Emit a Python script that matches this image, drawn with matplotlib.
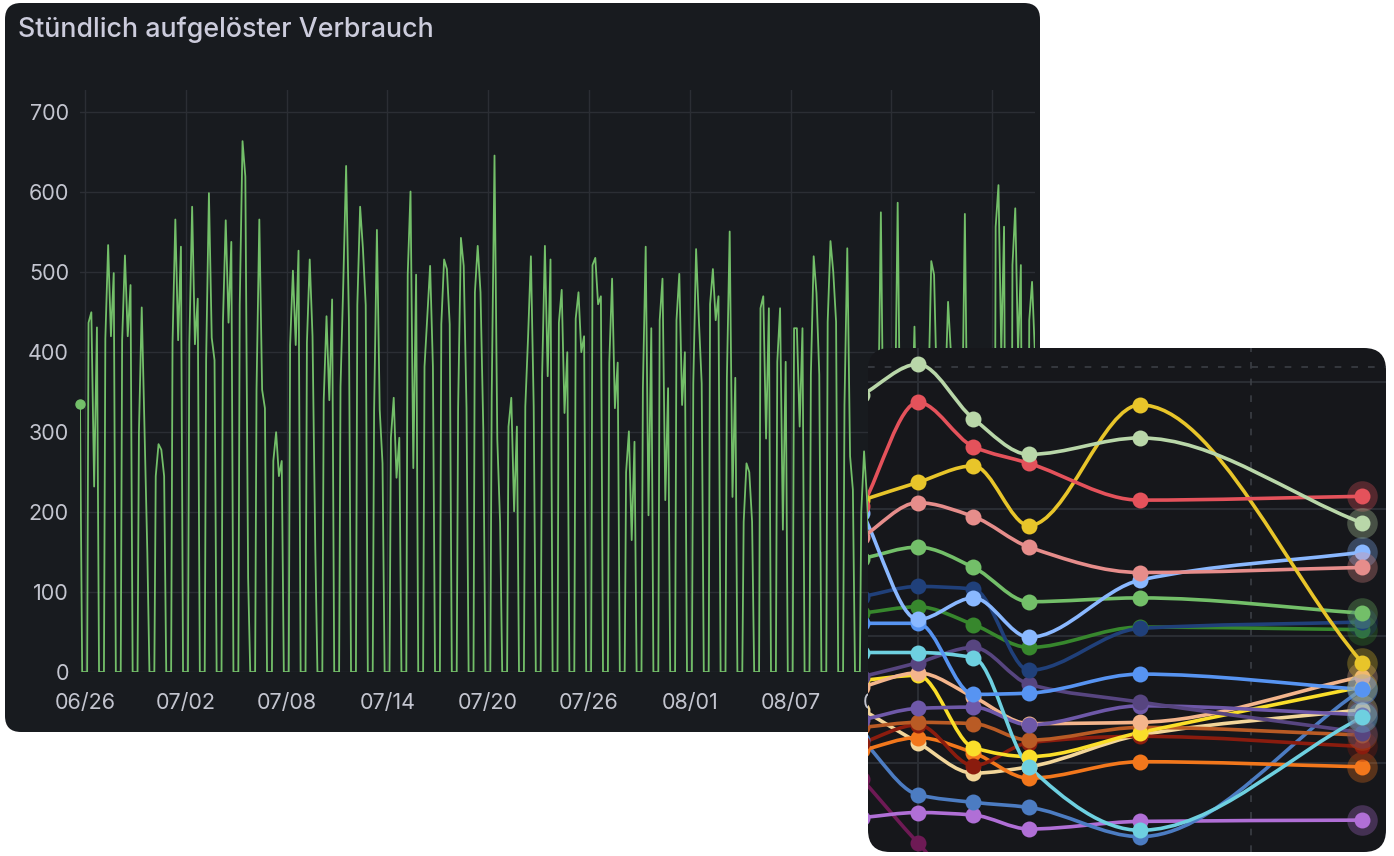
import numpy as np
import matplotlib
matplotlib.use("Agg")
import matplotlib.pyplot as plt
from matplotlib.patches import FancyBboxPatch, PathPatch
from matplotlib.path import Path

plt.rcParams['font.family'] = ['Inter', 'DejaVu Sans']

# ---- panel 1: hourly consumption, one bump per day ----
day_ticks = [0, 6, 12, 18, 24, 30, 36, 42, 48, 54]
day_labels = ["06/26", "07/02", "07/08", "07/14", "07/20",
              "07/26", "08/01", "08/07", "08/13", "08/19"]
hours = [3, 5, 9, 13, 17, 20]
cons_morning = [437, 417, 415, 300, 245, 412, 410, 390, 437, 459, 353, 264, 409, 412, 340,
                357, 459, 328, 293, 497, 382, 435, 330, 475, 345, 307, 332, 370, 437, 442,
                509, 387, 250, 355, 440, 440, 361, 460, 368, 188, 455, 388, 430, 372, 438,
                334, 200, 300, 300, 300, 350, 350, 300, 300, 557, 509, 440]
cons_peak = [450, 534, 521, 456, 285, 566, 582, 599, 565, 664, 566, 300, 502, 516, 445,
             488, 582, 553, 343, 601, 445, 516, 543, 533, 646, 343, 420, 533, 478, 475,
             518, 492, 301, 532, 492, 498, 529, 504, 551, 261, 470, 455, 430, 520, 539,
             530, 276, 575, 587, 432, 514, 463, 573, 400, 609, 580, 488]
cons_afternoon = [232, 420, 420, 300, 278, 415, 410, 418, 437, 620, 353, 245, 409, 420, 340,
                  633, 530, 328, 243, 255, 508, 504, 508, 475, 291, 201, 520, 370, 324, 400,
                  460, 330, 165, 196, 215, 334, 440, 440, 219, 250, 292, 178, 307, 474, 500,
                  270, 220, 250, 250, 250, 497, 400, 250, 250, 400, 400, 400]
cons_evening = [431, 499, 484, 149, 245, 532, 467, 390, 538, 118, 330, 264, 527, 152, 466,
                440, 459, 261, 293, 497, 382, 435, 330, 303, 186, 307, 332, 516, 400, 420,
                470, 387, 288, 430, 355, 400, 361, 470, 368, 188, 455, 388, 430, 372, 438,
                228, 150, 300, 300, 300, 350, 350, 300, 300, 557, 509, 440]
lead_time = [-0.30, -0.17]
lead_value = [335, 0]

# ---- panel 2: overlaid smooth series ----
step_x = [-1, 0, 1, 2, 4, 8]
sage = [390, 414, 371, 343, 356, 289]
red = [302, 384, 349, 336, 307, 310]
gold = [307, 321, 334, 287, 382, 179]
salmon = [278, 305, 294, 270, 250, 254]
light_blue = [297, 213, 230, 199, 244, 266]
mid_blue = [210, 210, 154, 155, 170, 158]
green = [261, 270, 254, 227, 230, 218]
navy = [231, 239, 237, 173, 206, 211]
dark_green = [218, 223, 209, 191, 207, 205]
cyan = [187, 187, 183, 97, 47, 136]
dark_purple = [168, 179, 191, 162, 148, 124]
violet = [134, 143, 144, 130, 145, 138]
peach = [160, 171, 152, 131, 132, 168]
yellow = [165, 169, 112, 105, 124, 160]
brown = [128, 132, 131, 118, 128, 122]
dark_red = [116, 130, 98, 116, 121, 113]
orange = [110, 120, 108, 88, 101, 97]
wheat = [142, 116, 92, 97, 122, 142]
steel = [118, 75, 69, 65, 42, 158]
orchid = [57, 61, 59, 48, 54, 55]
magenta = [87, 37, -8, -24, -32, -32]

series = [
    (magenta, "#6e1a55"), (orchid, "#b06fd6"), (steel, "#4c7cc2"),
    (wheat, "#f2d69a"), (orange, "#f2771c"), (dark_red, "#8a1c0e"),
    (brown, "#b95b25"), (yellow, "#fade2a"), (peach, "#f4b58c"),
    (violet, "#6e58a8"), (dark_purple, "#574580"), (cyan, "#6ed0e0"),
    (dark_green, "#37872d"), (navy, "#20407a"), (green, "#73bf69"),
    (mid_blue, "#5794f2"), (light_blue, "#8ab8ff"), (salmon, "#e68d8b"),
    (gold, "#e8c52a"), (red, "#e4525b"), (sage, "#b9d7a9"),
]

W, H = 1394, 856
BG = "#181b1f"
TXT = "#c3c5cf"
GRID = "#2b2e34"


def rect(x0, y0, x1, y1):
    return [x0 / W, 1 - y1 / H, (x1 - x0) / W, (y1 - y0) / H]


def panel(x0, y0, x1, y1, r, color):
    return FancyBboxPatch((x0 / 100, (H - y1) / 100), (x1 - x0) / 100, (y1 - y0) / 100,
                          boxstyle="round,pad=0,rounding_size=%f" % r,
                          transform=fig.dpi_scale_trans, facecolor=color,
                          edgecolor="none", clip_on=False, zorder=-5)


def smooth_path(xs, ys):
    # monotone cubic through the points, drawn as bezier segments
    xs = np.asarray(xs, float)
    ys = np.asarray(ys, float)
    h = np.diff(xs)
    d = np.diff(ys) / h
    m = np.zeros(len(xs))
    m[0], m[-1] = d[0], d[-1]
    for k in range(1, len(xs) - 1):
        if d[k - 1] * d[k] > 0:
            w1 = 2 * h[k] + h[k - 1]
            w2 = h[k] + 2 * h[k - 1]
            m[k] = (w1 + w2) / (w1 / d[k - 1] + w2 / d[k])
    verts = [(xs[0], ys[0])]
    codes = [Path.MOVETO]
    for k in range(len(xs) - 1):
        verts += [(xs[k] + h[k] / 3, ys[k] + m[k] * h[k] / 3),
                  (xs[k + 1] - h[k] / 3, ys[k + 1] - m[k + 1] * h[k] / 3),
                  (xs[k + 1], ys[k + 1])]
        codes += [Path.CURVE4] * 3
    return Path(verts, codes)


fig = plt.figure(figsize=(W / 100, H / 100), dpi=100)
fig.patch.set_facecolor("white")

# panel 1
ax1 = fig.add_axes(rect(80, 90, 1035, 672))
ax1.set_zorder(1)
ax1.add_patch(panel(5, 3, 1040, 732, 0.16, BG))
ax1.set_facecolor("none")

t = list(lead_time)
v = list(lead_value)
for d in range(len(cons_peak)):
    day_vals = [0, cons_morning[d], cons_peak[d], cons_afternoon[d], cons_evening[d], 0]
    for hh, val in zip(hours, day_vals):
        t.append(d + hh / 24)
        v.append(val)
ax1.plot(t, v, color="#73bf69", lw=1.3, zorder=3)
ax1.plot(lead_time[:1], lead_value[:1], "o", color="#73bf69", ms=6.5, zorder=3,
         clip_on=False)

ax1.set_xlim(-0.30, 56.55)
ax1.set_ylim(0, 728)
ax1.set_xticks(day_ticks)
ax1.set_xticklabels(day_labels)
ax1.set_yticks(range(0, 800, 100))
ax1.tick_params(length=0, colors=TXT, labelsize=15.5)
ax1.tick_params(axis="x", pad=15)
ax1.tick_params(axis="y", pad=8)
ax1.grid(True, color=GRID, lw=1)
ax1.set_axisbelow(True)
for s in ax1.spines.values():
    s.set_visible(False)

fig.text(18 / W, 1 - 30 / H, "Stündlich aufgelöster Verbrauch", fontsize=19.3,
         color="#ccccdc", va="center", ha="left", fontweight="medium", zorder=2)

# panel 2 (overlay)
ax2 = fig.add_axes(rect(868, 348, 1386, 852))
ax2.set_zorder(5)
ax2.set_facecolor("none")
back = panel(868, 348, 1386, 852, 0.22, "#16171b")
ax2.add_patch(back)
ax2.set_xlim(-0.9, 8.43)
ax2.set_ylim(29.9, 426.8)
for s in ax2.spines.values():
    s.set_visible(False)
ax2.set_xticks([])
ax2.set_yticks([])

for gy in [100, 200, 300, 400]:
    ax2.axhline(gy, color="#2a2d33", lw=1.5, zorder=1)
ax2.axvline(0, color="#2a2d33", lw=1.5, zorder=1)
ax2.axhline(412, color="#3b3e45", lw=1.2, ls=(0, (4, 6)), zorder=1)
ax2.axvline(6, color="#3b3e45", lw=1.2, ls=(0, (4, 6)), zorder=1)

for vals, col in series:
    line = PathPatch(smooth_path(step_x, vals), fill=False, edgecolor=col, lw=2.6,
                     capstyle="round", joinstyle="round", zorder=3)
    ax2.add_patch(line)
    line.set_clip_path(back)
    pts = ax2.plot(step_x, vals, "o", color=col, ms=11.5, mew=0, zorder=4)[0]
    pts.set_clip_path(back)
    halo = ax2.plot(step_x[-1:], vals[-1:], "o", color=col, ms=22, mew=0,
                    alpha=0.3, zorder=4)[0]
    halo.set_clip_path(back)

fig.savefig("out.png", dpi=100, facecolor=fig.get_facecolor())
